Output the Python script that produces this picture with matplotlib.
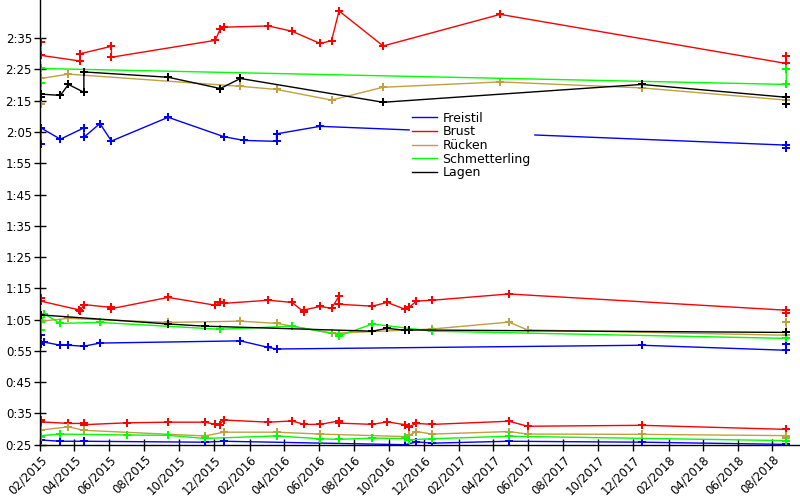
import matplotlib
matplotlib.use("Agg")
import matplotlib.pyplot as plt
import matplotlib.dates as mdates
from matplotlib.lines import Line2D
from matplotlib.ticker import FuncFormatter, FixedLocator
import numpy as np

# Zeiten in Sekunden, je Lage und Strecke

frei200_dates = ["2015-02-02", "2015-02-02", "2015-03-08", "2015-04-18", "2015-04-18", "2015-05-16",
                 "2015-06-05", "2015-09-12", "2015-12-18", "2016-01-22", "2016-03-19", "2016-03-19",
                 "2016-06-03", "2018-08-25", "2018-08-25"]
frei200_times = [121.0, 126.3, 122.7, 126.3, 123.3, 127.7, 122.1, 129.7, 123.5, 122.3, 122.0, 124.4,
                 126.8, 120.8, 119.9]

brust200_dates = ["2015-02-02", "2015-02-02", "2015-04-11", "2015-04-11", "2015-06-05", "2015-06-05",
                  "2015-12-03", "2015-12-12", "2015-12-18", "2016-03-05", "2016-04-15", "2016-06-03",
                  "2016-06-23", "2016-07-06", "2016-09-21", "2017-04-13", "2018-08-25", "2018-08-25"]
brust200_times = [153.7, 149.5, 147.7, 150.0, 152.4, 148.9, 154.3, 158.0, 158.5, 158.9, 157.2, 153.3,
                  154.2, 163.7, 152.5, 162.6, 146.9, 149.3]

ruecken200_dates = ["2015-02-02", "2015-02-02", "2015-03-22", "2016-01-16", "2016-03-19", "2016-06-23",
                    "2016-09-21", "2017-04-13", "2017-12-16", "2018-08-25"]
ruecken200_times = [134.1, 142.1, 143.5, 139.6, 138.6, 135.2, 139.3, 141.0, 139.1, 135.2]

schm200_dates = ["2015-02-02", "2015-02-02", "2018-08-25", "2018-08-25"]
schm200_times = [140.5, 145.3, 140.2, 145.0]

lagen200_dates = ["2015-02-02", "2015-02-02", "2015-03-08", "2015-03-22", "2015-04-18", "2015-04-18",
                  "2015-09-12", "2015-12-12", "2016-01-16", "2016-09-21", "2017-12-16", "2018-08-25",
                  "2018-08-25"]
lagen200_times = [136.3, 137.1, 136.7, 140.2, 137.7, 144.2, 142.5, 138.9, 142.1, 134.5, 140.2, 136.1,
                  134.1]

frei100_dates = ["2015-02-02", "2015-02-02", "2015-02-08", "2015-03-08", "2015-03-22", "2015-04-18",
                 "2015-05-16", "2016-01-16", "2016-03-05", "2016-03-19", "2017-12-16", "2018-08-25",
                 "2018-08-25"]
frei100_times = [60.0, 57.2, 57.8, 56.8, 56.8, 56.5, 57.5, 58.2, 56.1, 55.6, 56.8, 55.2, 57.2]

brust100_dates = ["2015-02-02", "2015-02-02", "2015-04-10", "2015-04-11", "2015-04-18", "2015-06-05",
                  "2015-06-05", "2015-09-12", "2015-12-03", "2015-12-11", "2015-12-18", "2016-03-05",
                  "2016-04-15", "2016-05-06", "2016-05-06", "2016-06-03", "2016-06-23", "2016-07-06",
                  "2016-07-06", "2016-09-02", "2016-09-28", "2016-10-29", "2016-11-05", "2016-11-18",
                  "2016-12-16", "2017-04-28", "2018-08-25", "2018-08-25"]
brust100_times = [71.9, 70.9, 68.1, 67.6, 69.8, 68.9, 68.5, 72.1, 69.6, 70.5, 70.2, 71.2,
                  70.5, 67.4, 68.1, 69.2, 68.6, 72.5, 69.9, 69.3, 70.5, 68.3, 68.9, 70.9,
                  71.2, 73.2, 68.0, 67.0]

ruecken100_dates = ["2015-02-02", "2015-03-22", "2015-09-12", "2016-01-16", "2016-03-19", "2016-06-23",
                    "2016-12-16", "2017-04-28", "2017-05-31", "2018-08-25", "2018-08-25"]
ruecken100_times = [64.5, 65.4, 64.1, 64.5, 63.8, 60.6, 62.0, 64.2, 61.7, 60.0, 64.1]

schm100_dates = ["2015-02-02", "2015-02-02", "2015-02-08", "2015-03-08", "2015-05-16", "2015-12-12",
                 "2016-04-15", "2016-07-06", "2016-07-06", "2016-09-02", "2016-12-16", "2018-08-25"]
schm100_times = [61.6, 64.1, 66.8, 63.8, 64.1, 61.9, 62.9, 60.3, 59.8, 63.6, 61.3, 59.0]

lagen100_dates = ["2015-02-02", "2015-09-12", "2015-11-15", "2016-09-02", "2016-09-28", "2016-10-29",
                  "2016-11-05", "2018-08-25"]
lagen100_times = [66.5, 63.6, 62.9, 61.3, 62.2, 61.6, 61.7, 60.9]

frei50_dates = ["2015-02-02", "2015-03-08", "2015-04-18", "2015-11-15", "2015-12-18", "2016-10-29",
                "2016-11-18", "2016-12-16", "2017-04-28", "2017-12-16", "2018-08-25"]
frei50_times = [26.5, 26.1, 26.1, 25.8, 26.1, 25.0, 25.9, 25.5, 26.1, 25.8, 25.1]

brust50_dates = ["2015-02-02", "2015-02-02", "2015-03-22", "2015-04-18", "2015-04-18", "2015-07-02",
                 "2015-09-12", "2015-11-15", "2015-12-03", "2015-12-11", "2015-12-18", "2016-03-05",
                 "2016-04-15", "2016-05-06", "2016-06-03", "2016-07-06", "2016-07-06", "2016-09-02",
                 "2016-09-28", "2016-10-29", "2016-11-05", "2016-11-18", "2016-12-16", "2017-04-28",
                 "2017-05-31", "2017-12-16", "2018-08-25"]
brust50_times = [32.9, 32.3, 31.8, 31.8, 31.4, 32.0, 32.2, 32.2, 31.5, 31.4, 32.9, 32.2,
                 32.6, 31.5, 31.5, 32.6, 31.9, 31.5, 32.3, 31.4, 30.8, 31.8, 31.5, 32.5,
                 30.9, 31.2, 29.9]

ruecken50_dates = ["2015-02-02", "2015-03-22", "2015-04-18", "2015-11-15", "2015-12-18", "2016-03-19",
                   "2016-06-03", "2016-10-29", "2016-11-05", "2016-11-18", "2016-12-16", "2017-04-28",
                   "2017-05-31", "2017-12-16", "2018-08-25", "2018-08-25"]
ruecken50_times = [29.7, 30.7, 29.6, 27.8, 29.0, 29.0, 28.4, 27.6, 28.0, 29.2, 28.4, 29.2,
                   28.4, 28.3, 27.9, 27.0]

schm50_dates = ["2015-02-02", "2015-02-02", "2015-03-08", "2015-07-02", "2015-09-12", "2015-11-15",
                "2016-03-19", "2016-06-03", "2016-07-06", "2016-09-02", "2016-10-29", "2016-11-05",
                "2016-12-16", "2017-04-28", "2018-08-25"]
schm50_times = [27.4, 27.9, 28.4, 28.1, 28.0, 27.0, 27.8, 26.9, 26.7, 27.1, 27.0, 26.6,
                26.9, 27.7, 26.3]

labels = ["Freistil", "Brust", "Rücken", "Schmetterling", "Lagen"]
colors = ["#0000ff", "#ff0000", "#c0a040", "#00ff00", "#000000"]

series = [
    (0, frei200_dates, frei200_times), (0, frei100_dates, frei100_times), (0, frei50_dates, frei50_times),
    (1, brust200_dates, brust200_times), (1, brust100_dates, brust100_times), (1, brust50_dates, brust50_times),
    (2, ruecken200_dates, ruecken200_times), (2, ruecken100_dates, ruecken100_times),
    (2, ruecken50_dates, ruecken50_times),
    (3, schm200_dates, schm200_times), (3, schm100_dates, schm100_times), (3, schm50_dates, schm50_times),
    (4, lagen200_dates, lagen200_times), (4, lagen100_dates, lagen100_times),
]

fig = plt.figure(figsize=(8, 5), dpi=100)
ax = fig.add_axes([40.3 / 800, 55.3 / 500, 759.7 / 800, 444.7 / 500])

for idx, d, t in series:
    ax.plot(np.array(d, dtype="datetime64[D]"), t, color=colors[idx], lw=1.0,
            marker="P", ms=5.2, mew=0)

ax.set_ylim(25, 167.2)
ax.set_xlim(np.datetime64("2015-02-01"), np.datetime64("2018-09-18"))

ax.yaxis.set_major_locator(FixedLocator(np.arange(25, 160, 10)))
ax.yaxis.set_major_formatter(FuncFormatter(lambda s, p: "%d:%02d" % (s // 60, s % 60)))
ax.xaxis.set_major_locator(mdates.MonthLocator(bymonth=[2, 4, 6, 8, 10, 12]))
ax.xaxis.set_major_formatter(mdates.DateFormatter("%m/%Y"))

ax.tick_params(direction="inout", length=8, width=1, labelsize=8.5, pad=2, colors="black")
for lab in ax.get_xticklabels():
    lab.set_rotation(45)
    lab.set_ha("right")
    lab.set_va("top")
    lab.set_rotation_mode("anchor")

for s in ["top", "right"]:
    ax.spines[s].set_visible(False)
for s in ["left", "bottom"]:
    ax.spines[s].set_linewidth(1.0)

handles = [Line2D([], [], color=c, lw=1.0) for c in colors]
leg = ax.legend(handles, labels, loc="upper left", bbox_to_anchor=(0.4866, 0.7545),
                fontsize=9, frameon=True, fancybox=False, framealpha=1,
                edgecolor="white", facecolor="white", borderpad=0.2, borderaxespad=0,
                handlelength=2.0, handletextpad=0.4, labelspacing=0.05)

fig.savefig("out.png", dpi=100)
